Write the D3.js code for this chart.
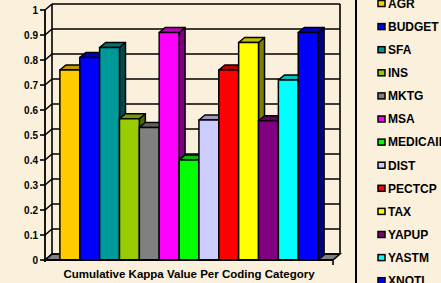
<!DOCTYPE html>
<html><head><meta charset="utf-8">
<script src="https://cdn.jsdelivr.net/npm/d3@7"></script>
<style>
html,body{margin:0;padding:0;background:#FAF0DC;}
svg{display:block;}
text{font-family:"Liberation Sans",Arial,sans-serif;font-weight:bold;fill:#000;}
</style></head>
<body>
<svg id="c" width="441" height="283"></svg>
<script>
const categories = ["AGR","BUDGET","SFA","INS","MKTG","MSA","MEDICAID","DIST","PECTCP","TAX","YAPUP","YASTM","XNOTL"];
const values = [0.76,0.81,0.85,0.565,0.53,0.91,0.40,0.56,0.76,0.87,0.557,0.72,0.91];
const colors = ["#FFCC00","#0000FF","#009999","#99CC00","#808080","#FF00FF","#00FF00","#CCCCFF","#FF0000","#FFFF00","#800080","#00FFFF","#0000FF"];
const yTicks = [0,0.1,0.2,0.3,0.4,0.5,0.6,0.7,0.8,0.9,1];
const xLabel = "Cumulative Kappa Value Per Coding Category";

const svg = d3.select("#c");
const W = {x0:45, x1:333, dx:7, dy:-6};
const bd = {dx:6, dy:-5};
const y = d3.scaleLinear().domain([0,1]).range([260,10]);
const x = d3.scaleBand().domain(categories).range([W.x0,W.x1]).paddingInner(0).paddingOuter(0.75);
const shade = (c,k)=>{const r=d3.rgb(c);return d3.rgb(r.r*k,r.g*k,r.b*k).formatHex();};

// floor
svg.append("polygon")
  .attr("points",[[W.x0,y(0)],[W.x1,y(0)],[W.x1+W.dx,y(0)+W.dy],[W.x0+W.dx,y(0)+W.dy]].map(p=>p.join(",")).join(" "))
  .attr("fill","#808080").attr("stroke","#000").attr("stroke-width",1.5);

// back wall gridlines
svg.append("g").selectAll("line").data(yTicks).join("line")
  .attr("x1",W.x0+W.dx).attr("x2",W.x1+W.dx)
  .attr("y1",d=>y(d)+W.dy).attr("y2",d=>y(d)+W.dy)
  .attr("stroke","#000").attr("stroke-width",1.6);
// back wall verticals
svg.append("line").attr("x1",W.x0+W.dx).attr("x2",W.x0+W.dx).attr("y1",y(1)+W.dy).attr("y2",y(0)+W.dy).attr("stroke","#000").attr("stroke-width",1.6);
svg.append("line").attr("x1",W.x1+W.dx).attr("x2",W.x1+W.dx).attr("y1",y(1)+W.dy).attr("y2",y(0)+W.dy).attr("stroke","#000").attr("stroke-width",1.6);
// side wall connectors
svg.append("g").selectAll("line").data(yTicks).join("line")
  .attr("x1",W.x0).attr("x2",W.x0+W.dx)
  .attr("y1",d=>y(d)).attr("y2",d=>y(d)+W.dy)
  .attr("stroke","#000").attr("stroke-width",1.6);
// front value axis
svg.append("line").attr("x1",W.x0).attr("x2",W.x0).attr("y1",y(1)).attr("y2",y(0)+2).attr("stroke","#000").attr("stroke-width",1.8);
svg.append("g").selectAll("line").data(yTicks).join("line")
  .attr("x1",W.x0-5).attr("x2",W.x0).attr("y1",d=>y(d)).attr("y2",d=>y(d))
  .attr("stroke","#000").attr("stroke-width",1.6);
svg.append("g").selectAll("text").data(yTicks).join("text")
  .attr("x",W.x0-7).attr("y",d=>y(d)).attr("dy","0.35em")
  .attr("text-anchor","end").attr("font-size","10px")
  .text(d=>d3.format("")(d===0?0:+d.toFixed(1)));

// bars
const bars = svg.append("g").selectAll("g").data(categories).join("g");
bars.each(function(c,i){
  const g=d3.select(this);
  const x0=x(c), x1=x(c)+x.bandwidth(), yt=y(values[i]), yb=y(0);
  g.append("polygon").attr("points",[[x1,yt],[x1+bd.dx,yt+bd.dy],[x1+bd.dx,yb+bd.dy],[x1,yb]].map(p=>p.join(",")).join(" "))
   .attr("fill",shade(colors[i],0.5)).attr("stroke","#000").attr("stroke-width",1.5).attr("stroke-linejoin","round");
  g.append("polygon").attr("points",[[x0,yt],[x0+bd.dx,yt+bd.dy],[x1+bd.dx,yt+bd.dy],[x1,yt]].map(p=>p.join(",")).join(" "))
   .attr("fill",shade(colors[i],0.75)).attr("stroke","#000").attr("stroke-width",1.5).attr("stroke-linejoin","round");
  g.append("rect").attr("x",x0).attr("y",yt).attr("width",x.bandwidth()).attr("height",yb-yt)
   .attr("fill",colors[i]).attr("stroke","#000").attr("stroke-width",1.5);
});

// category axis
svg.append("line").attr("x1",W.x0).attr("x2",W.x1).attr("y1",y(0)).attr("y2",y(0)).attr("stroke","#000").attr("stroke-width",1.8);
svg.append("line").attr("x1",W.x1).attr("x2",W.x1).attr("y1",y(0)).attr("y2",y(0)+5).attr("stroke","#000").attr("stroke-width",1.6);
svg.append("text").attr("x",(W.x0+W.x1)/2).attr("y",277.5).attr("text-anchor","middle").attr("font-size","11.5px").text(xLabel);

// legend
svg.append("rect").attr("x",356).attr("y",-5).attr("width",120).attr("height",300).attr("fill","none").attr("stroke","#000").attr("stroke-width",2);
const leg = svg.append("g").selectAll("g").data(categories).join("g")
  .attr("transform",(d,i)=>`translate(0,${3.5+i*23.1})`);
leg.append("rect").attr("x",378).attr("y",-3).attr("width",7).attr("height",6)
  .attr("fill",(d,i)=>colors[i]).attr("stroke","#000").attr("stroke-width",1.5);
leg.append("text").attr("x",388).attr("y",0).attr("dy","0.36em").attr("font-size","12px").text(d=>d);
</script>
</body></html>
